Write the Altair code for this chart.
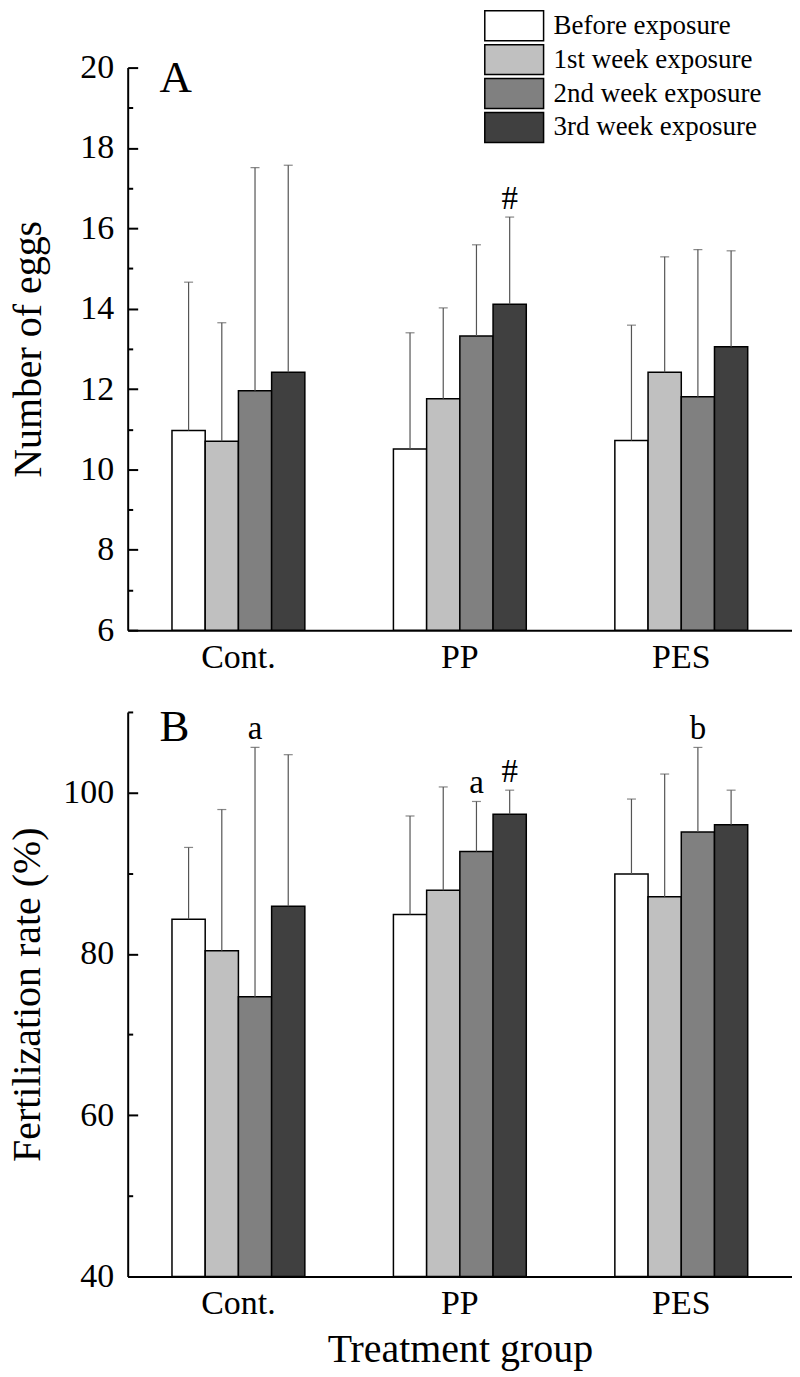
import altair as alt
import pandas as pd

FONT = "Liberation Serif"

groups = ["Cont.", "PP", "PES"]
series = ["Before exposure", "1st week exposure", "2nd week exposure", "3rd week exposure"]
colors = ["#ffffff", "#c0c0c0", "#808080", "#404040"]

# Panel A: number of eggs (mean, SD) per group [Cont., PP, PES]
eggs_before = [10.97, 10.51, 10.72]
eggs_week1 = [10.70, 11.76, 12.42]
eggs_week2 = [11.96, 13.32, 11.81]
eggs_week3 = [12.42, 14.11, 13.05]
eggs_sd_before = [3.69, 2.89, 2.87]
eggs_sd_week1 = [2.95, 2.26, 2.87]
eggs_sd_week2 = [5.55, 2.27, 3.66]
eggs_sd_week3 = [5.15, 2.17, 2.39]

# Panel B: fertilization rate (%) (mean, SD)
fert_before = [84.3, 84.9, 89.9]
fert_week1 = [80.4, 87.9, 87.1]
fert_week2 = [74.7, 92.7, 95.1]
fert_week3 = [85.9, 97.3, 96.0]
fert_sd_before = [8.9, 12.2, 9.3]
fert_sd_week1 = [17.5, 12.8, 15.2]
fert_sd_week2 = [30.9, 6.2, 10.5]
fert_sd_week3 = [18.8, 3.0, 4.3]

# significance marks
ann_a_group = ["PP"]
ann_a_series = ["3rd week exposure"]
ann_a_label = ["#"]
ann_b_group = ["Cont.", "PP", "PP", "PES"]
ann_b_series = ["2nd week exposure", "2nd week exposure", "3rd week exposure", "2nd week exposure"]
ann_b_label = ["a", "a", "#", "b"]


def make_df(means, sds):
    rows = []
    for s, m_list, sd_list in zip(series, means, sds):
        for g, m, sd in zip(groups, m_list, sd_list):
            rows.append({"group": g, "series": s, "mean": m, "upper": round(m + sd, 3)})
    return pd.DataFrame(rows)


df_a = make_df([eggs_before, eggs_week1, eggs_week2, eggs_week3],
               [eggs_sd_before, eggs_sd_week1, eggs_sd_week2, eggs_sd_week3])
df_b = make_df([fert_before, fert_week1, fert_week2, fert_week3],
               [fert_sd_before, fert_sd_week1, fert_sd_week2, fert_sd_week3])


def ann_df(df, gs, ss, ls):
    rows = []
    for g, s, l in zip(gs, ss, ls):
        up = df[(df.group == g) & (df.series == s)]["upper"].iloc[0]
        rows.append({"group": g, "series": s, "label": l, "upper": up})
    return pd.DataFrame(rows)


ann_a = ann_df(df_a, ann_a_group, ann_a_series, ann_a_label)
ann_b = ann_df(df_b, ann_b_group, ann_b_series, ann_b_label)

W = 666


def panel(df, ann, ymin, ymax, major, tick_vals, major_step, ytitle, ytitle_pad,
          letter, letter_y, xtitle, height, legend):
    xaxis = alt.Axis(title=xtitle, ticks=False, labelAngle=0, labelFontSize=34,
                     labelFont=FONT, titleFont=FONT, labelColor="black", titleColor="black",
                     titleFontWeight="normal",
                     labelPadding=10, titleFontSize=40, titlePadding=9,
                     domainWidth=2, domainColor="black", grid=False)
    x = alt.X("group:N", sort=groups,
              scale=alt.Scale(paddingInner=0.4, paddingOuter=0.2), axis=xaxis)
    xo = alt.XOffset("series:N", sort=series,
                     scale=alt.Scale(paddingInner=0, paddingOuter=0))
    ysc = alt.Scale(domain=[ymin, ymax], zero=False, nice=False)

    bars = alt.Chart(df).mark_bar(stroke="black", strokeWidth=1.5).encode(
        x=x, xOffset=xo,
        y=alt.Y("mean:Q", scale=ysc,
                axis=alt.Axis(orient="left", values=major, title=ytitle, ticks=False,
                              labelFont=FONT, titleFont=FONT, labelColor="black",
                              titleColor="black", titleFontWeight="normal",
                              labelFontSize=34, labelPadding=14, titleFontSize=40,
                              titlePadding=ytitle_pad, domainWidth=2,
                              domainColor="black", grid=False)),
        y2=alt.datum(ymin),
        color=alt.Color("series:N", sort=series,
                        scale=alt.Scale(domain=series, range=colors), legend=legend),
    )
    rules = alt.Chart(df).mark_rule(color="#555555", strokeWidth=1.2).encode(
        x=x, xOffset=xo,
        y=alt.Y("mean:Q", scale=ysc,
                axis=alt.Axis(orient="right", offset=-W, values=tick_vals, labels=False,
                              domain=False, grid=False, title=None, tickColor="black",
                              tickWidth=2,
                              tickSize={"expr": f"datum.value % {major_step} == 0 ? 10 : 5"})),
        y2="upper:Q",
    )
    caps = alt.Chart(df).mark_tick(color="#555555", size=9, thickness=1.2,
                                   orient="horizontal").encode(
        x=x, xOffset=xo,
        y=alt.Y("upper:Q", scale=ysc, axis=None),
    )
    marks = alt.Chart(ann).mark_text(fontSize=33, font=FONT, baseline="alphabetic",
                                     dy=-8, color="black").encode(
        x=x, xOffset=xo,
        y=alt.Y("upper:Q", scale=ysc, axis=None),
        text="label:N",
    )
    let = alt.Chart(pd.DataFrame({"t": [letter]})).mark_text(
        fontSize=45, font=FONT, align="left", baseline="alphabetic", color="black"
    ).encode(x=alt.value(32), y=alt.value(letter_y), text="t:N")

    return alt.layer(bars, rules, caps, marks, let).resolve_axis(y="independent").properties(
        width=W, height=height)


legend_a = alt.Legend(title=None, orient="none", legendX=357, legendY=-58,
                      symbolType="M-1,-1H2.93V1H-1Z", symbolSize=900,
                      symbolStrokeColor="black", symbolStrokeWidth=1.5, symbolOpacity=1,
                      labelFontSize=27, labelFont=FONT, labelColor="black",
                      labelOffset=38, rowPadding=-3, padding=0, labelLimit=400)

pa = panel(df_a, ann_a, 6, 20, list(range(6, 21, 2)), list(range(6, 21)), 2,
           "Number of eggs", 31, "A", 24, None, 564, legend_a)
pb = panel(df_b, ann_b, 40, 110, [40, 60, 80, 100], list(range(40, 111, 10)), 20,
           "Fertilization rate (%)", 15, "B", 29, "Treatment group", 566, None)

chart = alt.vconcat(pa, pb, spacing=31).resolve_legend(color="independent").properties(
    padding={"left": 0, "top": 0, "right": 0, "bottom": 0}
).configure_view(stroke=None).configure_axis(
    labelFont=FONT, titleFont=FONT, labelColor="black", titleColor="black",
    titleFontWeight="normal"
)

chart.save("out.html", embed_options={"renderer": "svg", "actions": False})
